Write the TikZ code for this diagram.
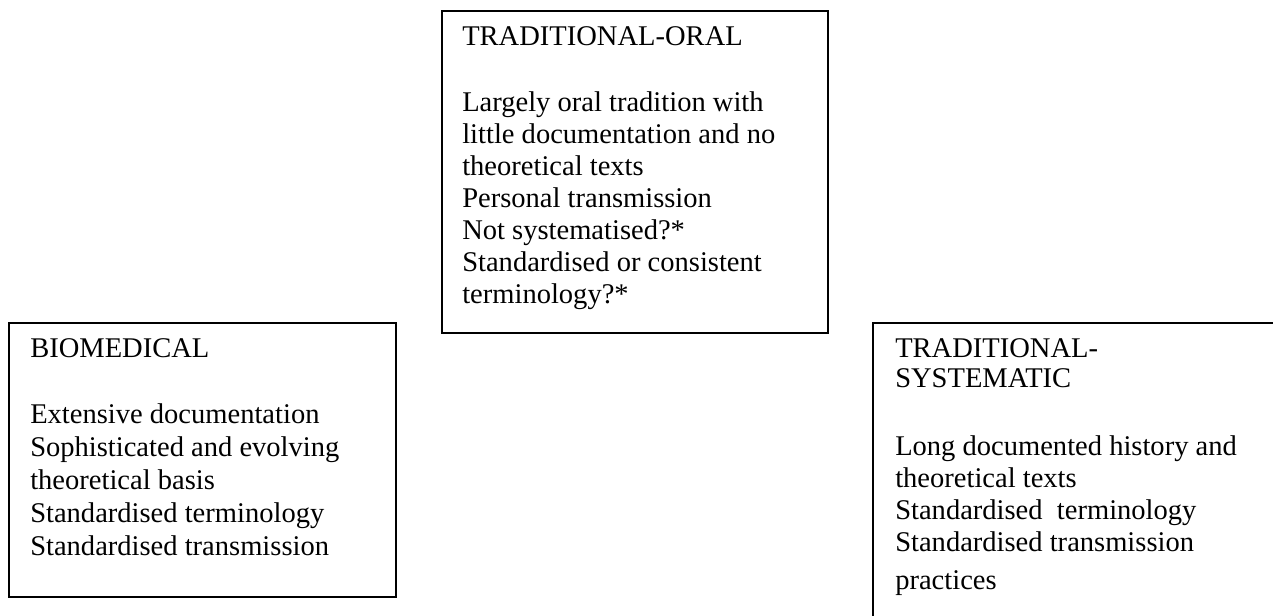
\documentclass[tikz,border=0pt]{standalone}
\usepackage{fontspec}
\setmainfont{Liberation Serif}
% invisible strut that fixes the top of a text block 16pt above its first baseline
\newcommand{\firstlinestrut}{\rule{0pt}{16pt}}
\begin{document}
\begin{tikzpicture}[x=0.75pt,y=-0.75pt,
  panel/.style={draw=black, line width=1.7pt, rectangle, anchor=north west,
    inner sep=0pt, outer sep=0pt},
  paneltext/.style={anchor=north west, inner sep=0pt, align=left,
    font=\fontsize{21.4pt}{24pt}\selectfont}]
\clip (0,0) rectangle (1273,615);

% the three panels
\node[panel, minimum width=289.5pt, minimum height=241.5pt] (oralbox) at (442,11) {};
\node[panel, minimum width=290.25pt, minimum height=205.5pt] (biobox) at (9,323) {};
\node[panel, minimum width=322.5pt, minimum height=240pt] (sysbox) at (873,323) {};

% panel contents
\node[paneltext] (oraltext) at (462,23.67) {\firstlinestrut TRADITIONAL-ORAL\\[25.5pt]
  Largely oral tradition with\\
  little documentation and no\\
  theoretical texts\\
  Personal transmission\\
  Not systematised?*\\
  Standardised or consistent\\
  terminology?*};

\node[paneltext, font=\fontsize{21.4pt}{24.75pt}\selectfont] (biotext) at (30,335.67)
  {\firstlinestrut BIOMEDICAL\\[24.75pt]
  Extensive documentation\\
  Sophisticated and evolving\\
  theoretical basis\\
  Standardised terminology\\
  Standardised transmission};

\node[paneltext] (systext) at (895,335.67) {\firstlinestrut TRADITIONAL-\\[-1.5pt]
  SYSTEMATIC\\[27pt]
  Long documented history and\\
  theoretical texts\\
  Standardised\ \ terminology\\
  Standardised transmission\\[5pt]
  practices};
\end{tikzpicture}
\end{document}
